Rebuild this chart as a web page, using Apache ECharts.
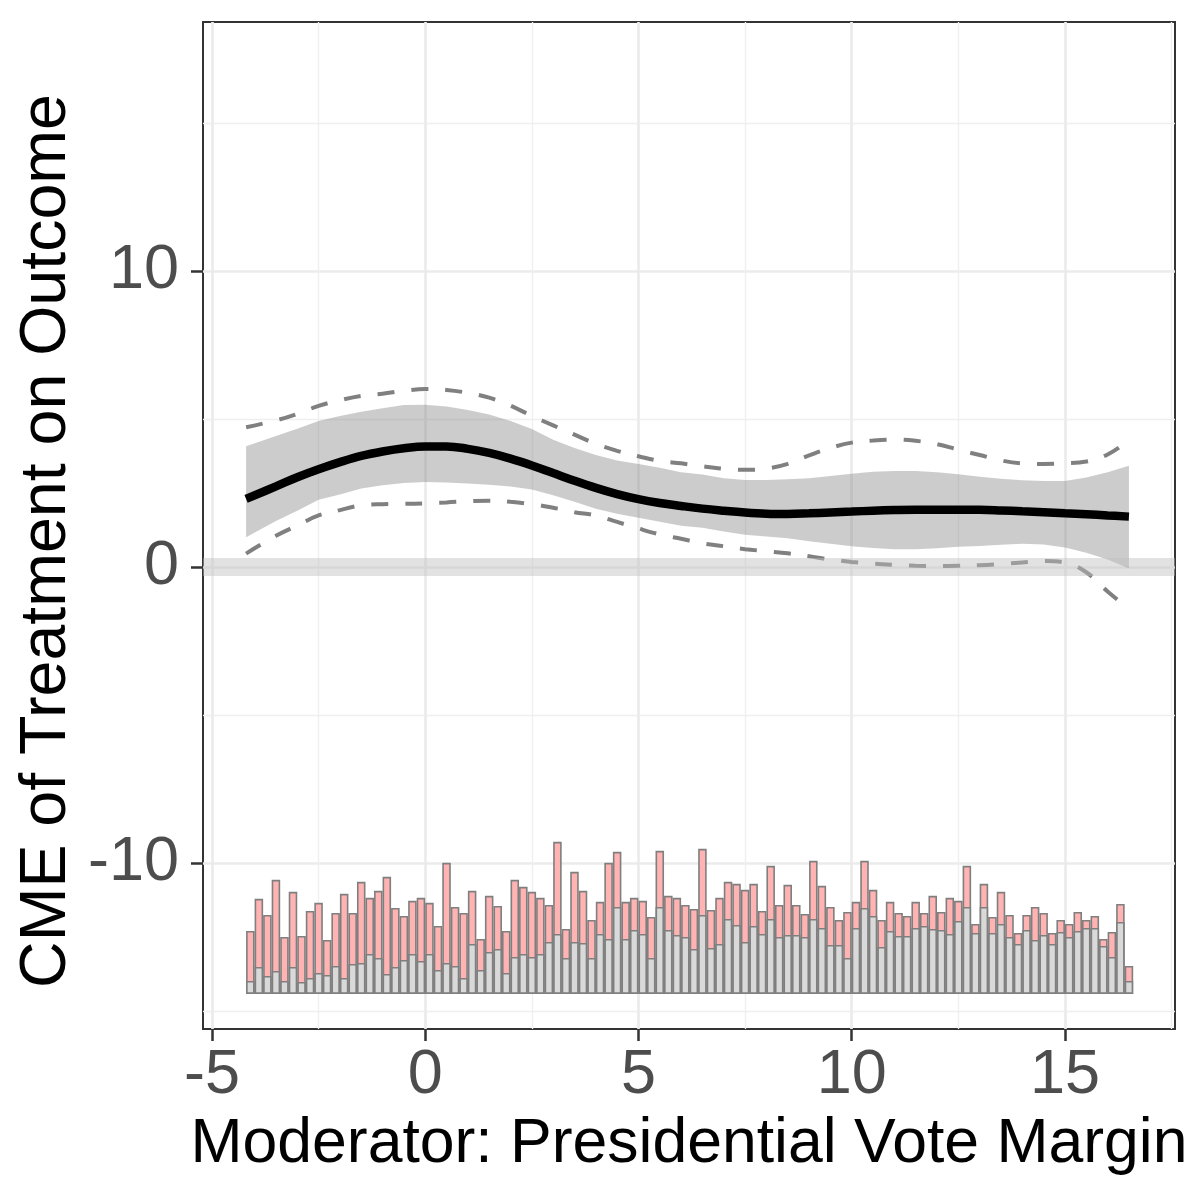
<!DOCTYPE html>
<html><head><meta charset="utf-8">
<script src="https://cdn.jsdelivr.net/npm/echarts@6/dist/echarts.min.js"></script>
<style>html,body{margin:0;padding:0;background:#fff}#c{width:1200px;height:1200px}</style>
</head><body><div id="c"></div>
<script>
// moderator grid
const xGrid = [-4.2,-3.5,-3,-2.5,-2,-1.5,-1,-0.5,0,0.5,1,1.5,2,2.5,3,3.5,4,4.5,5,5.5,6,6.5,7,7.5,8,8.5,9,9.5,10,10.5,11,11.5,12,12.5,13,13.5,14,14.5,15,15.5,16,16.5];
// conditional marginal effect (solid line)
const cme = [2.30,2.72,3.03,3.30,3.54,3.75,3.90,4.01,4.07,4.07,3.99,3.85,3.66,3.43,3.17,2.91,2.67,2.46,2.29,2.16,2.06,1.97,1.90,1.84,1.80,1.79,1.81,1.84,1.87,1.90,1.92,1.93,1.93,1.93,1.93,1.91,1.88,1.85,1.81,1.78,1.74,1.70];
// pointwise CI (shaded band)
const ciLower = [1.00,1.55,1.90,2.27,2.45,2.65,2.76,2.84,2.87,2.85,2.82,2.78,2.72,2.62,2.42,2.20,1.97,1.80,1.66,1.53,1.39,1.32,1.20,1.09,1.03,0.97,0.87,0.78,0.70,0.64,0.60,0.60,0.63,0.68,0.71,0.75,0.78,0.76,0.66,0.48,0.25,-0.05];
const ciUpper = [4.08,4.42,4.67,4.93,5.10,5.24,5.36,5.47,5.48,5.42,5.30,5.15,4.93,4.66,4.30,4.02,3.78,3.60,3.48,3.35,3.20,3.12,3.00,2.94,2.94,2.96,3.00,3.07,3.15,3.22,3.24,3.24,3.20,3.13,3.05,2.98,2.93,2.90,2.90,3.02,3.20,3.42];
// uniform CI (dashed lines)
const uniLower = [0.45,1.05,1.40,1.74,1.92,2.08,2.12,2.13,2.15,2.18,2.22,2.24,2.20,2.12,2.00,1.85,1.74,1.52,1.30,1.10,0.95,0.80,0.70,0.60,0.53,0.46,0.36,0.25,0.17,0.11,0.07,0.04,0.03,0.04,0.06,0.10,0.15,0.20,0.15,-0.18,-0.83,-1.42];
const uniUpper = [4.72,4.95,5.17,5.44,5.63,5.78,5.85,5.95,6.01,5.98,5.88,5.72,5.45,5.10,4.78,4.47,4.16,3.92,3.74,3.58,3.50,3.40,3.32,3.28,3.32,3.48,3.77,4.02,4.20,4.27,4.30,4.26,4.15,3.96,3.78,3.60,3.50,3.48,3.50,3.56,3.80,4.28];
// histogram of moderator (bins of width 0.2 starting at -4.2)
const binStart = -4.2, binWidth = 0.2;
const histTotal = [63,95,79,114,57,102,58,83,91,54,81,100,81,112,96,103,117,86,78,93,96,91,68,131,87,81,103,55,98,88,63,114,107,102,96,89,152,65,122,103,74,92,131,142,92,96,93,77,143,98,96,89,85,145,84,96,112,110,104,110,83,128,89,109,89,80,133,108,87,74,82,92,133,104,74,92,81,78,92,81,98,82,96,93,128,70,110,77,102,79,61,79,87,81,61,74,70,82,74,78,55,62,90,28];
const histGray = [13,27,18,23,13,27,12,16,21,19,28,16,30,31,40,36,20,27,34,40,33,40,24,31,28,16,50,24,42,45,21,37,40,37,40,52,60,36,52,51,36,60,55,87,55,64,60,36,87,64,59,57,45,79,46,50,75,69,52,68,60,75,57,59,59,57,75,66,49,49,36,66,86,78,47,63,58,58,66,68,65,64,60,73,87,61,87,61,70,57,50,64,54,59,50,62,57,63,66,66,48,37,72,13];
const xTicks = [-5,0,5,10,15];
const yTicks = [-10,0,10];

const X_MIN = -5.21, X_MAX = 17.58, Y_MIN = -15.61, Y_MAX = 18.41;
const G = {left:203, right:25, top:22, bottom:171};
const plotW = 1200 - G.left - G.right;
const barPx = plotW / (X_MAX - X_MIN) * binWidth;

const zip = (xs, ys) => xs.map((x, i) => [x, ys[i]]);
const centers = histTotal.map((_, i) => +(binStart + binWidth * (i + 0.5)).toFixed(3));
const FONT = '"Liberation Sans", Arial, Helvetica, sans-serif';

const chart = echarts.init(document.getElementById('c'), null, {renderer:'canvas'});
chart.setOption({
  animation:false,
  backgroundColor:'#fff',
  grid:{left:G.left, right:G.right, top:G.top, bottom:G.bottom, show:true, borderColor:'#333333', borderWidth:2, backgroundColor:'transparent'},
  xAxis:[{
    type:'value', min:X_MIN, max:X_MAX, minInterval:5, maxInterval:5, splitNumber:5,
    axisLine:{show:false, onZero:false},
    axisTick:{show:true, length:12, customValues:xTicks, lineStyle:{color:'#333333', width:2.5}},
    axisLabel:{customValues:xTicks, fontSize:63, color:'#4D4D4D', margin:15, fontFamily:FONT},
    splitLine:{show:true, lineStyle:{color:'#EBEBEB', width:2.7}},
    minorTick:{show:false, splitNumber:2},
    minorSplitLine:{show:true, lineStyle:{color:'#EFEFEF', width:1.4}},
    name:'Moderator: Presidential Vote Margin', nameLocation:'middle', nameGap:84,
    nameTextStyle:{fontSize:62.5, color:'#000', fontFamily:FONT}
  }],
  yAxis:[{
    type:'value', min:Y_MIN, max:Y_MAX, minInterval:10, maxInterval:10, splitNumber:3,
    axisLine:{show:false, onZero:false},
    axisTick:{show:true, length:12, customValues:yTicks, lineStyle:{color:'#333333', width:2.5}},
    axisLabel:{customValues:yTicks, fontSize:63, color:'#4D4D4D', margin:24, fontFamily:FONT},
    splitLine:{show:true, lineStyle:{color:'#EBEBEB', width:2.7}},
    minorTick:{show:false, splitNumber:2},
    minorSplitLine:{show:true, lineStyle:{color:'#EFEFEF', width:1.4}}
  },{
    type:'value', min:-35, max:971, show:false, splitLine:{show:false},
    axisLine:{show:false, onZero:false}
  }],
  graphic:[{
    type:'text', x:47, y:541, rotation:Math.PI/2,
    style:{text:'CME of Treatment on Outcome', fontSize:64.5, fontFamily:FONT, fill:'#000',
      align:'center', verticalAlign:'middle', textAlign:'center', textVerticalAlign:'middle'}
  }],
  series:[
    {type:'custom', xAxisIndex:0, yAxisIndex:0, silent:true, z:2, clip:true,
     data:[[xGrid[0], ciLower[0]]],
     renderItem:function(params, api){
       const pts = [];
       for (let i = 0; i < xGrid.length; i++) pts.push(api.coord([xGrid[i], ciUpper[i]]));
       for (let i = xGrid.length - 1; i >= 0; i--) pts.push(api.coord([xGrid[i], ciLower[i]]));
       return {type:'polygon', shape:{points:pts}, style:{fill:'rgba(128,128,128,0.4)'}};
     }},
    {type:'line', data:[], symbol:'none', silent:true,
     markLine:{silent:true, symbol:'none', label:{show:false},
       lineStyle:{color:'rgba(190,190,190,0.45)', width:18, type:'solid'}, data:[{yAxis:0}]}},
    {type:'line', data:zip(xGrid, uniUpper), smooth:0.4, symbol:'none', z:3,
     lineStyle:{color:'#808080', width:4, type:[17,17]}},
    {type:'line', data:zip(xGrid, uniLower), smooth:0.4, symbol:'none', z:3,
     lineStyle:{color:'#808080', width:4, type:[17,17]}},
    {type:'line', data:zip(xGrid, cme), smooth:0.4, symbol:'none', z:4,
     lineStyle:{color:'#000', width:8.5}},
    {type:'bar', xAxisIndex:0, yAxisIndex:1, barWidth:barPx, barGap:'-100%', data:zip(centers, histTotal), z:3,
     itemStyle:{color:'#FFB3B3', borderColor:'#7F7F7F', borderWidth:1.6}},
    {type:'bar', xAxisIndex:0, yAxisIndex:1, barWidth:barPx, barGap:'-100%', data:zip(centers, histGray), z:3,
     itemStyle:{color:'#D9D9D9', borderColor:'#7F7F7F', borderWidth:1.6}}
  ]
});
</script></body></html>
